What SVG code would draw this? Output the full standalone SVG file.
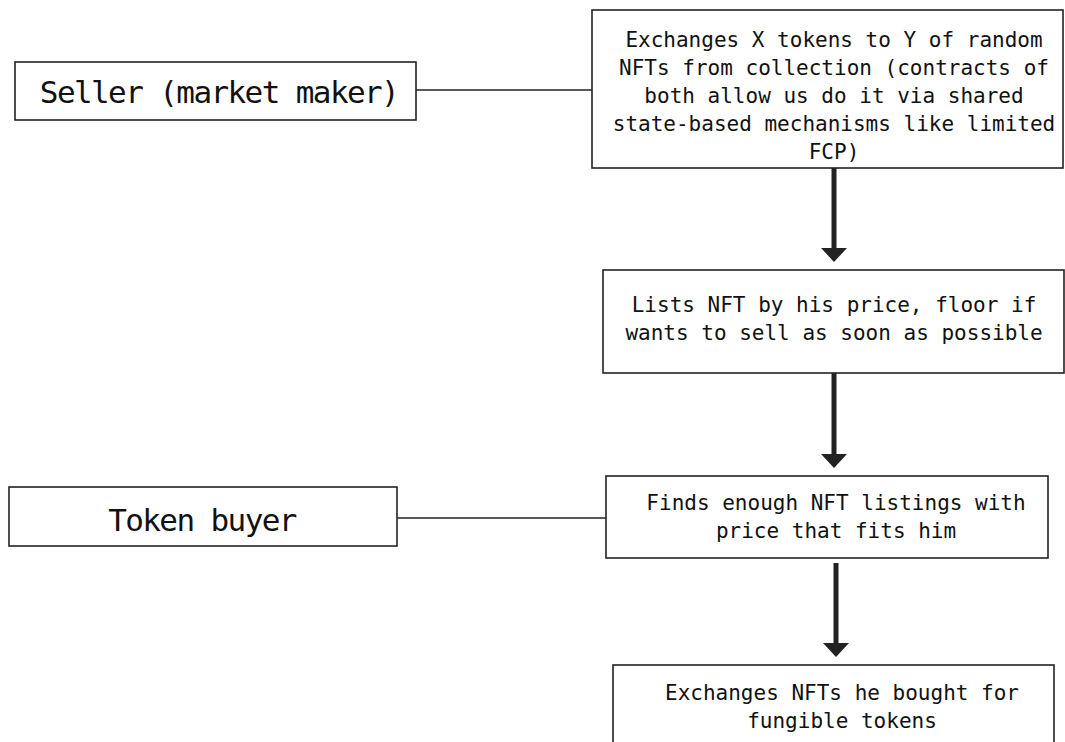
<svg xmlns="http://www.w3.org/2000/svg" width="1065" height="742" viewBox="0 0 1065 742">
<style>
.box{fill:#fff;stroke:#222;stroke-width:1.6}
.t{font-family:"DejaVu Sans Mono",monospace;fill:#111;text-anchor:middle}
.s{font-size:21px;letter-spacing:0px}
.b{font-size:31px;letter-spacing:-1.6px}
.ln{stroke:#222;stroke-width:1.6;fill:none}
.ar{stroke:#222;stroke-width:5;fill:none}
.hd{fill:#222}
</style>
<rect width="1065" height="742" fill="#fff"/>
<g id="connectors">
<line class="ln" x1="416" y1="90" x2="592" y2="90"/>
<line class="ln" x1="397" y1="518" x2="606" y2="518"/>
<line class="ar" x1="834" y1="168" x2="834" y2="250"/>
<polygon class="hd" points="821,248 847,248 834,262"/>
<line class="ar" x1="834" y1="373" x2="834" y2="456"/>
<polygon class="hd" points="821,454 847,454 834,468"/>
<line class="ar" x1="836" y1="563" x2="836" y2="645"/>
<polygon class="hd" points="823,643 849,643 836,657"/>
</g>
<g id="seller">
<rect class="box" x="15" y="62" width="401" height="58"/>
<text class="t b" x="219" y="103">Seller (market maker)</text>
</g>
<g id="exchange1">
<rect class="box" x="592" y="10" width="471" height="158"/>
<text class="t s" x="834" y="47">Exchanges X tokens to Y of random</text>
<text class="t s" x="834" y="75">NFTs from collection (contracts of</text>
<text class="t s" x="834" y="103">both allow us do it via shared</text>
<text class="t s" x="834" y="131">state-based mechanisms like limited</text>
<text class="t s" x="834" y="159">FCP)</text>
</g>
<g id="lists">
<rect class="box" x="603" y="270" width="461" height="103"/>
<text class="t s" x="834" y="312">Lists NFT by his price, floor if</text>
<text class="t s" x="834" y="340">wants to sell as soon as possible</text>
</g>
<g id="buyer">
<rect class="box" x="9" y="487" width="388" height="59"/>
<text class="t b" x="202" y="531">Token buyer</text>
</g>
<g id="finds">
<rect class="box" x="606" y="476" width="442" height="82"/>
<text class="t s" x="836" y="510">Finds enough NFT listings with</text>
<text class="t s" x="836" y="538">price that fits him</text>
</g>
<g id="exchange2">
<rect class="box" x="613" y="665" width="441" height="90"/>
<text class="t s" x="842" y="700">Exchanges NFTs he bought for</text>
<text class="t s" x="842" y="728">fungible tokens</text>
</g>
</svg>
